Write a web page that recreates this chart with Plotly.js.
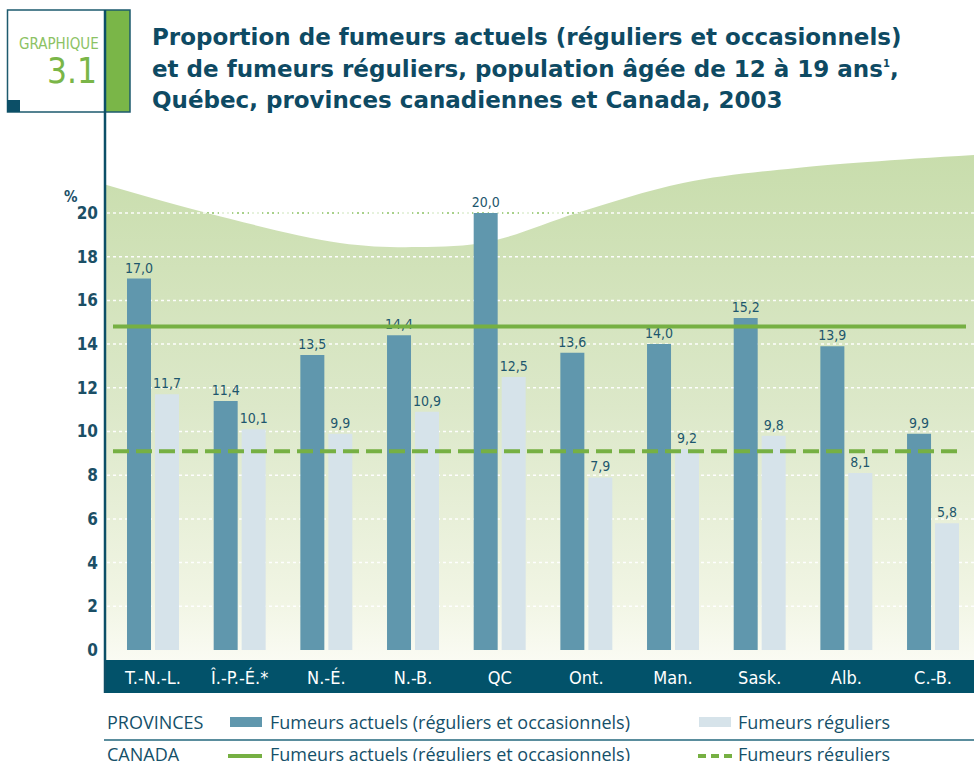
<!DOCTYPE html>
<html>
<head>
<meta charset="utf-8">
<script src="https://cdn.plot.ly/plotly-3.0.1.min.js"></script>
<style>
  html, body { margin: 0; padding: 0; background: #ffffff; }
  #chart { width: 974px; height: 761px; }
</style>
</head>
<body>
<div id="chart"></div>
<script>
// ---------- data ----------
var provinces = ["T.-N.-L.", "Î.-P.-É.*", "N.-É.", "N.-B.", "QC", "Ont.", "Man.", "Sask.", "Alb.", "C.-B."];
var fumeursActuels = [17.0, 11.4, 13.5, 14.4, 20.0, 13.6, 14.0, 15.2, 13.9, 9.9];
var fumeursReguliers = [11.7, 10.1, 9.9, 10.9, 12.5, 7.9, 9.2, 9.8, 8.1, 5.8];
var canadaActuels = 14.8;
var canadaReguliers = 9.1;
var yTickValues = [0, 2, 4, 6, 8, 10, 12, 14, 16, 18, 20];
var gridValues = [2, 4, 6, 8, 10, 12, 14, 16, 18, 20];
var titleLines = [
  "Proportion de fumeurs actuels (réguliers et occasionnels)",
  "et de fumeurs réguliers, population âgée de 12 à 19 ans<sup><span style=\"font-size:10px\">1</span></sup>,",
  "Québec, provinces canadiennes et Canada, 2003"
];

// ---------- geometry (pixels) ----------
var W = 974, H = 761;
var ML = 105, MR = 0, MT = 150, MB = 101;
var plotW = W - ML - MR, plotH = H - MT - MB;
function px(x) { return (x - ML) / plotW; }
function py(y) { return (H - MB - y) / plotH; }

var unit = 21.85;                       // px per 1 %
var yLow = -10 / unit;
var yHigh = yLow + plotH / unit;
var catStep = 86.67;
var xLow = -(153 - ML) / catStep;
var xHigh = xLow + plotW / catStep;

// decorative background wave (not data)
var decorWaveX = [105, 207, 340, 418, 490, 577, 683, 797, 974];
var decorWaveY = [21.3, 20.0, 18.63, 18.44, 18.7, 20.0, 21.37, 22.06, 22.65];

var teal = "#0c4f67";
var dark = "#6097ad";
var light = "#d6e3ea";
var green = "#76b043";
var narrow = "'DejaVu Sans Condensed', 'Liberation Sans Narrow', 'Arial Narrow', sans-serif";
var human = "'Open Sans', 'Noto Sans', sans-serif";

// gridline trace arrays
var gx = [], gy = [];
gridValues.forEach(function (g) { gx.push(107, 974, null); gy.push(g, g, null); });

function fmt(v) { return v.toFixed(1).replace(".", ","); }

var traces = [
  { // lower bound for fill
    x: [ML, W], y: [-2, -2], xaxis: "x", yaxis: "y",
    mode: "lines", line: { width: 0 }, hoverinfo: "skip", showlegend: false
  },
  { // gradient wave
    x: decorWaveX, y: decorWaveY, xaxis: "x", yaxis: "y",
    mode: "lines", line: { width: 0, shape: "spline", smoothing: 1 },
    fill: "tonexty",
    fillgradient: {
      type: "vertical", start: yLow, stop: 22.7,
      colorscale: [[0, "#fafbf3"], [0.12, "#f1f5e4"], [0.5, "#dce8c9"], [1, "#c8ddac"]]
    },
    hoverinfo: "skip", showlegend: false
  },
  { // white dotted grid
    x: gx, y: gy, xaxis: "x", yaxis: "y",
    mode: "lines", line: { color: "rgba(255,255,255,0.95)", width: 1.5, dash: "3px,3px" },
    hoverinfo: "skip", showlegend: false
  },
  {
    type: "bar", name: "Fumeurs actuels (réguliers et occasionnels)",
    x: provinces, y: fumeursActuels, xaxis: "x2", yaxis: "y2",
    marker: { color: dark },
    text: fumeursActuels.map(fmt),
    textposition: "outside", constraintext: "none", cliponaxis: false,
    textfont: { family: narrow, size: 14, color: "#1d566d" },
    hoverinfo: "x+y", showlegend: false
  },
  {
    type: "bar", name: "Fumeurs réguliers",
    x: provinces, y: fumeursReguliers, xaxis: "x2", yaxis: "y2",
    marker: { color: light },
    text: fumeursReguliers.map(fmt),
    textposition: "outside", constraintext: "none", cliponaxis: false,
    textfont: { family: narrow, size: 14, color: "#1d566d" },
    hoverinfo: "x+y", showlegend: false
  }
];

var shapes = [
  { type: "line", xref: "x", yref: "y", x0: 107, x1: 974, y0: 20, y1: 20,
    line: { color: "#8cc264", width: 1.5, dash: "2px,3px" }, layer: "below" },
  { type: "rect", xref: "paper", yref: "paper", x0: px(104), x1: px(974), y0: py(693), y1: py(660),
    fillcolor: "#02526a", line: { width: 0 }, layer: "below" },
  { type: "line", xref: "paper", yref: "y", x0: px(113), x1: px(966), y0: canadaActuels, y1: canadaActuels,
    line: { color: green, width: 4 }, layer: "above" },
  { type: "line", xref: "paper", yref: "y", x0: px(113), x1: px(962), y0: canadaReguliers, y1: canadaReguliers,
    line: { color: green, width: 4, dash: "16px,7px" }, layer: "above" },
  { type: "rect", xref: "paper", yref: "paper", x0: px(106), x1: px(130), y0: py(112), y1: py(10),
    fillcolor: "#7ab648", line: { width: 0 } },
  { type: "rect", xref: "paper", yref: "paper", x0: px(7.5), x1: px(130), y0: py(112), y1: py(10),
    fillcolor: "rgba(0,0,0,0)", line: { color: "#1d5a6e", width: 1.5 } },
  { type: "rect", xref: "paper", yref: "paper", x0: px(7), x1: px(20), y0: py(112), y1: py(100),
    fillcolor: teal, line: { width: 0 } },
  { type: "line", xref: "paper", yref: "paper", x0: px(105), x1: px(105), y0: py(693), y1: py(10),
    line: { color: teal, width: 2.5 } },
  { type: "rect", xref: "paper", yref: "paper", x0: px(230), x1: px(262), y0: py(727), y1: py(717),
    fillcolor: dark, line: { width: 0 } },
  { type: "rect", xref: "paper", yref: "paper", x0: px(699), x1: px(731), y0: py(727), y1: py(717),
    fillcolor: light, line: { width: 0 } },
  { type: "line", xref: "paper", yref: "paper", x0: px(104), x1: px(974), y0: py(740), y1: py(740),
    line: { color: "#5a8d9d", width: 2 } },
  { type: "line", xref: "paper", yref: "paper", x0: px(228), x1: px(262), y0: py(756), y1: py(756),
    line: { color: green, width: 4 } },
  { type: "line", xref: "paper", yref: "paper", x0: px(698), x1: px(732), y0: py(756), y1: py(756),
    line: { color: green, width: 4, dash: "8px,5px" } }
];

function ann(text, x, y, opts) {
  var a = { text: text, xref: "paper", yref: "paper", x: px(x), y: py(y), showarrow: false,
            xanchor: "left", yanchor: "middle", font: { family: human, size: 18, color: "#155069" } };
  for (var k in opts) a[k] = opts[k];
  return a;
}

var titleFont = { family: "'DejaVu Sans', sans-serif", size: 23, color: "#0e4a63", weight: "bold" };
var annotations = [
  ann(titleLines[0], 150, 37, { font: titleFont }),
  ann(titleLines[1], 150, 69, { font: titleFont }),
  ann(titleLines[2], 150, 100, { font: titleFont }),
  ann("GRAPHIQUE", 101, 44, { xanchor: "right", font: { family: narrow, size: 15, color: "#8cc264" } }),
  ann("3.1", 99, 71, { xanchor: "right", font: { family: narrow, size: 35, color: "#7ab648" } }),
  ann("<b>%</b>", 71, 197, { xanchor: "center", font: { family: narrow, size: 15, color: "#1b4f66" } }),
  ann("PROVINCES", 105, 722, {}),
  ann("Fumeurs actuels (réguliers et occasionnels)", 268, 722, {}),
  ann("Fumeurs réguliers", 736, 722, {}),
  ann("CANADA", 105, 754, {}),
  ann("Fumeurs actuels (réguliers et occasionnels)", 268, 754, {}),
  ann("Fumeurs réguliers", 736, 754, {})
];

var layout = {
  width: W, height: H,
  margin: { l: ML, r: MR, t: MT, b: MB, pad: 0 },
  paper_bgcolor: "#ffffff", plot_bgcolor: "rgba(0,0,0,0)",
  showlegend: false,
  separators: ", ",
  barmode: "group", bargap: 0.354, bargroupgap: 0.143,
  xaxis: { range: [ML, W], visible: false, fixedrange: true },
  yaxis: {
    range: [yLow, yHigh], tickvals: yTickValues, ticktext: yTickValues.map(String),
    showgrid: false, zeroline: false, showline: false, ticks: "",
    ticklabelstandoff: 6,
    tickfont: { family: narrow, size: 17, color: "#1b4f66", weight: "bold" }
  },
  xaxis2: {
    overlaying: "x", type: "category", range: [xLow, xHigh],
    showgrid: false, zeroline: false, showline: false, ticks: "",
    ticklabelstandoff: 5,
    tickfont: { family: narrow, size: 18, color: "#ffffff" }
  },
  yaxis2: { overlaying: "y", matches: "y", range: [yLow, yHigh], visible: false },
  shapes: shapes,
  annotations: annotations
};

Plotly.newPlot("chart", traces, layout, { displayModeBar: false, staticPlot: true });
</script>
</body>
</html>
